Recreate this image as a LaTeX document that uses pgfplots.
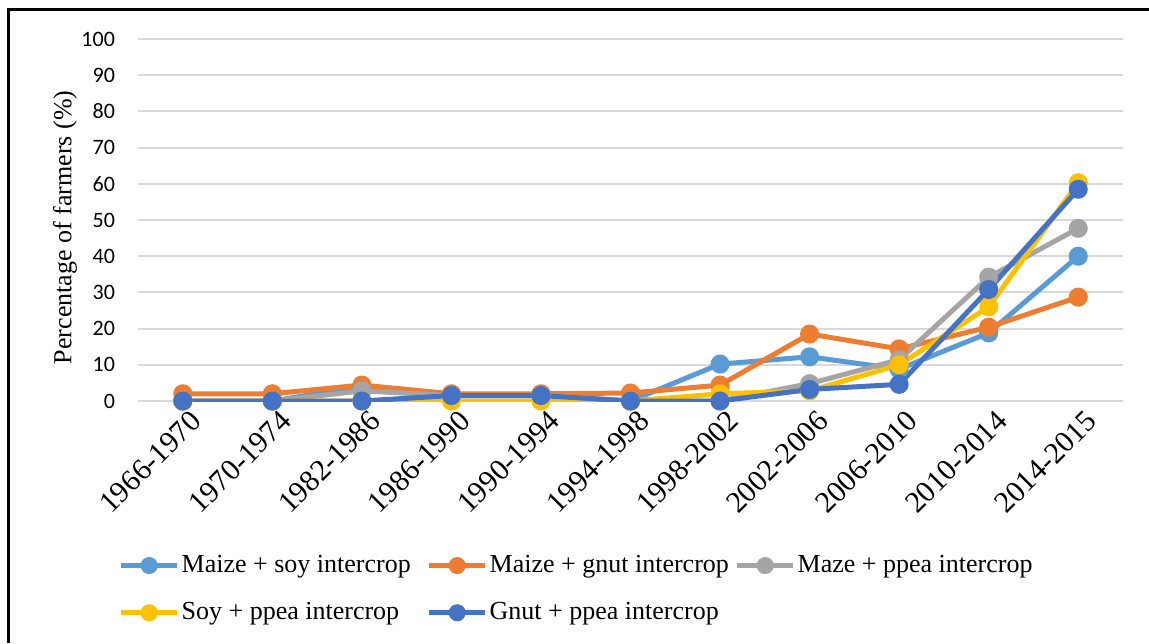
\documentclass[border=0pt]{standalone}
\usepackage{pgfplots}
\pgfplotsset{compat=1.18}
\usepackage{fontspec}
\setmainfont{Liberation Serif}
\newfontfamily\calibri{Carlito}
\definecolor{cA}{HTML}{5B9BD5}
\definecolor{cB}{HTML}{ED7D31}
\definecolor{cC}{HTML}{A5A5A5}
\definecolor{cD}{HTML}{FFC000}
\definecolor{cE}{HTML}{4472C4}
\pgfplotstableread{
x soy gnut mazeppea soyppea gnutppea
0 0 2 0 0 0
1 0 2 0 0 0
2 4 4.4 2.8 0 0
3 1.5 2 1.5 0 1.5
4 1.5 2 1.5 0 1.5
5 0 2.2 0 0 0
6 10.2 4.4 0 2 0
7 12.2 18.5 4.8 2.8 3.2
8 8.8 14.4 11.4 10 4.6
9 18.8 20.4 34.2 26 30.8
10 40 28.7 47.7 60.3 58.5
}\datatable
\begin{document}
\begin{tikzpicture}
\begin{axis}[
 at={(69pt,121pt)}, anchor=south west,
 scale only axis, width=492.5pt, height=181pt,
 xmin=-0.5, xmax=10.5, ymin=0, ymax=100,
 xtick={0,...,10},
 xticklabels={1966-1970,1970-1974,1982-1986,1986-1990,1990-1994,1994-1998,1998-2002,2002-2006,2006-2010,2010-2014,2014-2015},
 ytick={0,10,...,100},
 axis line style={draw=none},
 major tick length=0pt,
 ymajorgrids, grid style={color=black!15, line width=1pt},
 /pgf/number format/assume math mode=true,
 yticklabel style={font=\calibri\fontsize{11}{13}\selectfont, xshift=-8pt},
 xticklabel style={font=\fontsize{15}{17}\selectfont, rotate=45, anchor=east, yshift=-10pt, xshift=3pt},
 ylabel={Percentage of farmers (\%)},
 ylabel style={font=\fontsize{13}{15}\selectfont, at={(axis description cs:-0.074,0.48)}, anchor=center, rotate=0},
 every axis plot/.append style={line width=2.5pt, mark=*, mark size=3.5pt},
 legend columns=3,
 legend cell align=left,
 legend style={draw=none, fill=none, inner sep=0pt, at={(axis description cs:-0.02,-0.42)}, anchor=north west,
   font=\fontsize{13}{15}\selectfont, row sep=11.5pt,
   nodes={inner sep=1pt}},
 legend image code/.code={\draw[mark repeat=2,mark phase=2,line width=2.5pt,mark size=3pt] plot coordinates {(0pt,0pt) (14pt,0pt) (28pt,0pt)};},
]
\addplot[color=cA, mark options={fill=cA, draw=cA}] table[x=x,y=soy]{\datatable};
\addlegendentry{\makebox[121.5pt][l]{Maize + soy intercrop}}
\addplot[color=cB, mark options={fill=cB, draw=cB}] table[x=x,y=gnut]{\datatable};
\addlegendentry{\makebox[121.5pt][l]{Maize + gnut intercrop}}
\addplot[color=cC, mark options={fill=cC, draw=cC}] table[x=x,y=mazeppea]{\datatable};
\addlegendentry{\makebox[121.5pt][l]{Maze + ppea intercrop}}
\addplot[color=cD, mark options={fill=cD, draw=cD}] table[x=x,y=soyppea]{\datatable};
\addlegendentry{\makebox[121.5pt][l]{Soy + ppea intercrop}}
\addplot[color=cE, mark options={fill=cE, draw=cE}] table[x=x,y=gnutppea]{\datatable};
\addlegendentry{\makebox[121.5pt][l]{Gnut + ppea intercrop}}
\end{axis}
\pgfresetboundingbox
\useasboundingbox (0,0) rectangle (574.5pt,321.5pt);
\draw[line width=1.5pt] (4pt,0) -- (4pt,316.5pt) -- (574.5pt,316.5pt);
\end{tikzpicture}
\end{document}
